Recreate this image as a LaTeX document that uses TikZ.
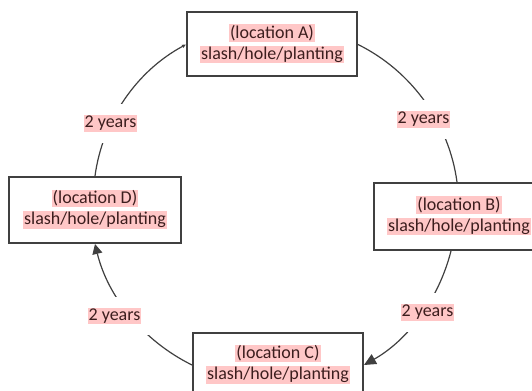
\documentclass[tikz,border=0pt]{standalone}
\usepackage{fontspec}
\setmainfont{Carlito}
\usetikzlibrary{arrows.meta}
\definecolor{hlpink}{RGB}{255,199,199}
\definecolor{inkred}{RGB}{60,30,30}
\definecolor{edge}{RGB}{64,64,64}
\newcommand{\hl}[1]{{\setlength{\fboxsep}{0.5pt}\colorbox{hlpink}{#1}}}
\newcommand{\loclines}[1]{\begin{tabular}{@{}c@{}}\hl{(location #1)}\\\hl{slash/hole/planting}\end{tabular}}

\begin{document}
\begin{tikzpicture}[x=0.5pt,y=0.5pt,
  loc/.style={draw=edge,line width=1pt,minimum width=85pt,minimum height=32pt,inner sep=0pt,text=inkred,font=\fontsize{9}{10.5}\selectfont},
  yrs/.style={fill=white,inner xsep=6pt,inner ysep=5.5pt,text=inkred,font=\fontsize{9}{10.5}\selectfont},
  cyc/.style={draw=edge,line width=0.6pt,looseness=0.9}]
\useasboundingbox (0,0) rectangle (532,391);

% the four places
\node[loc] (A) at (272,346.5) {\loclines{A}};
\node[loc,anchor=west,minimum height=33.5pt] (B) at (373,174.5) {\loclines{B}};
\node[loc,minimum height=31.5pt] (C) at (278,26) {\loclines{C}};
\node[loc,minimum width=86pt,minimum height=33pt] (D) at (95,181) {\loclines{D}};

% the cycle
\draw[cyc] (A.east) to[bend left=28] ([xshift=-1pt]B.north);
\draw[cyc,-{Triangle[length=6pt,width=5.5pt]}] ([xshift=-4pt]B.south) to[bend left=23] (C.east);
\draw[cyc,-{Triangle[length=5pt,width=5pt]}] (C.west) to[bend left=25] (D.south);
\draw[cyc,-{Triangle[length=2pt,width=1.6pt]}] (D.north) to[bend left=27] (A.west);

% time between moves
\node[yrs] (y1) at (423.5,271.5) {\hl{2 years}};
\node[yrs] (y2) at (427.5,78.5) {\hl{2 years}};
\node[yrs] (y3) at (114.5,75) {\hl{2 years}};
\node[yrs] (y4) at (110.5,267.5) {\hl{2 years}};

\end{tikzpicture}
\end{document}
